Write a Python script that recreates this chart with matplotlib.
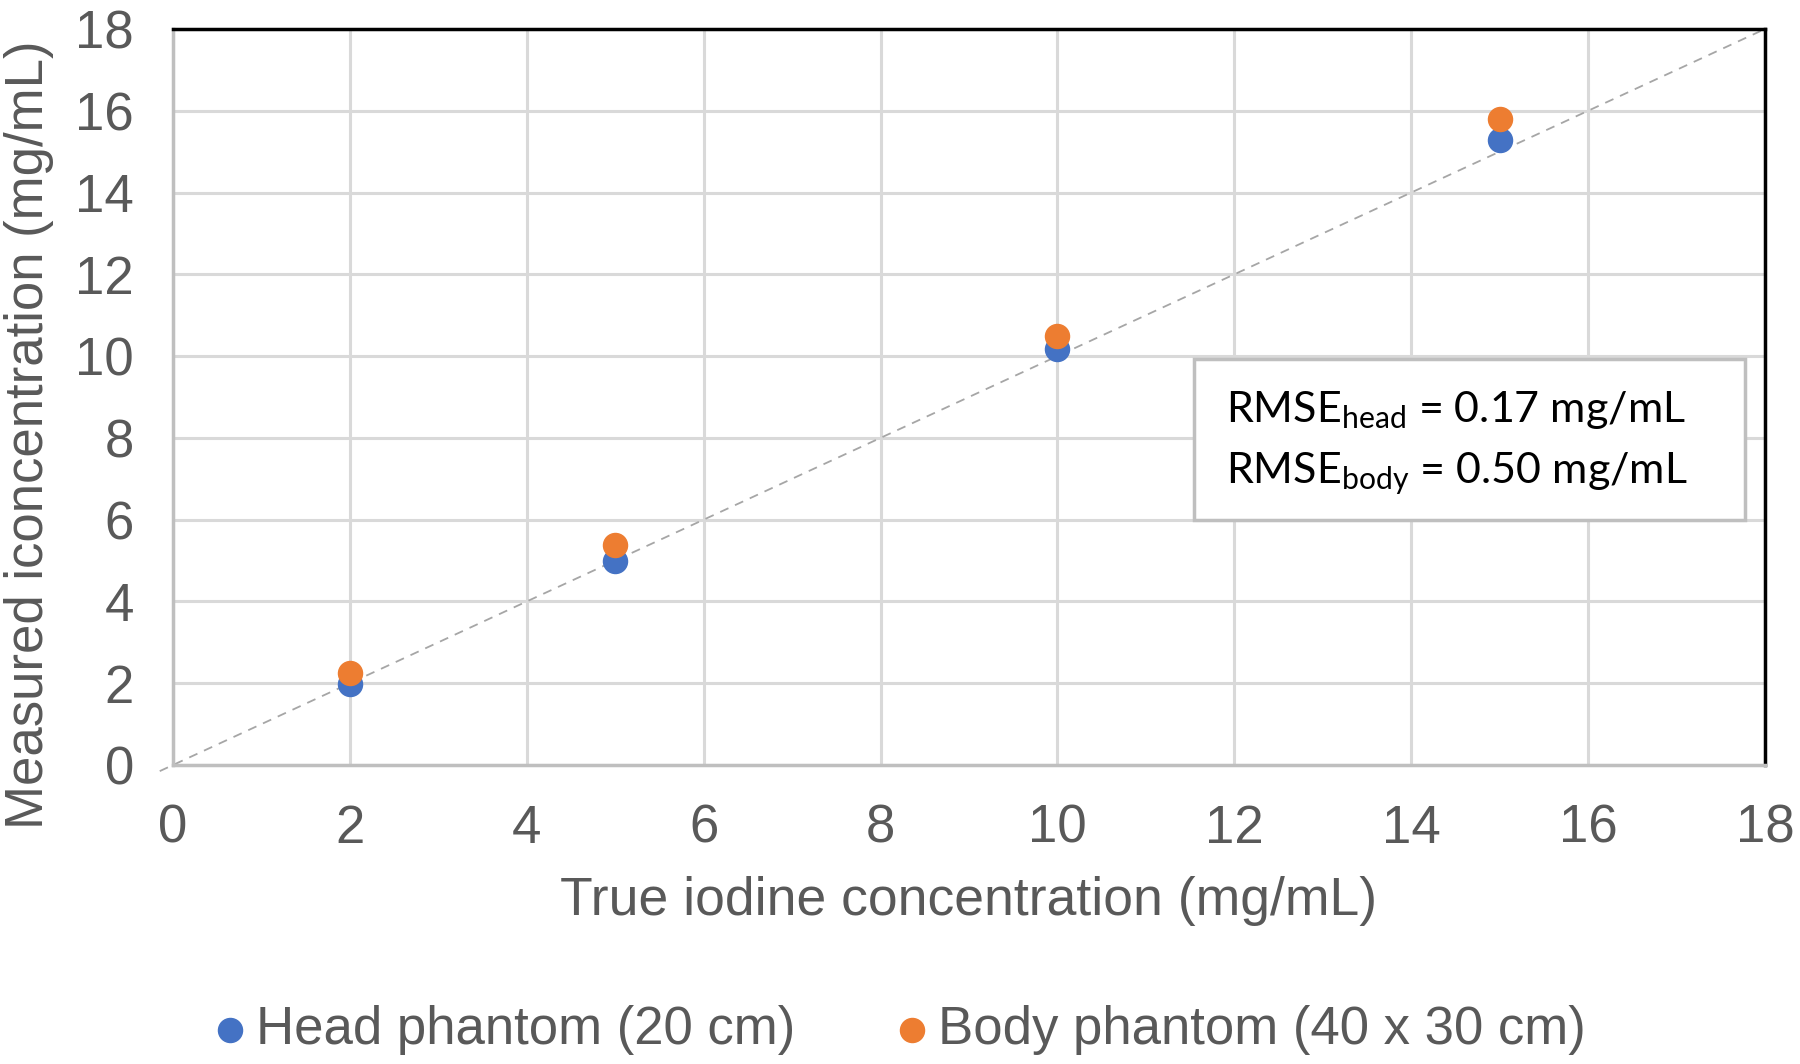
import matplotlib
matplotlib.use("Agg")
import matplotlib.pyplot as plt

plt.rcParams["font.family"] = ["Liberation Sans", "DejaVu Sans"]
plt.rcParams["mathtext.fontset"] = "custom"
plt.rcParams["mathtext.rm"] = "Lato"
plt.rcParams["mathtext.it"] = "Lato:italic"

# 数据
true_conc = [2, 5, 10, 15]
head_measured = [1.97, 5.0, 10.17, 15.28]
body_measured = [2.24, 5.38, 10.5, 15.8]
ticks = [0, 2, 4, 6, 8, 10, 12, 14, 16, 18]
identity_line = [-0.15, 18]
rmse_lines = [r"$\mathrm{RMSE}_{\mathrm{head}}$ = 0.17 mg/mL",
              r"$\mathrm{RMSE}_{\mathrm{body}}$ = 0.50 mg/mL"]

blue = "#4472C4"
orange = "#ED7D31"
text_gray = "#595959"
W, H = 1800, 1064

fig = plt.figure(figsize=(18, 10.64), dpi=100)
ax = fig.add_axes([173 / W, 1 - 765 / H, 1592 / W, 736 / H])

ax.plot(identity_line, identity_line, ls=(0, (5, 4)), color="#a6a6a6", lw=1.3, zorder=2, clip_on=False)
ax.scatter(true_conc, head_measured, s=300, color=blue, zorder=3, label="Head phantom (20 cm)")
ax.scatter(true_conc, body_measured, s=300, color=orange, zorder=3, label="Body phantom (40 x 30 cm)")

ax.set_xlim(0, 18)
ax.set_ylim(0, 18)
ax.set_xticks(ticks)
ax.set_yticks(ticks)
ax.grid(True, color="#d9d9d9", lw=2.2, zorder=0)
ax.set_axisbelow(True)
ax.tick_params(length=0, labelsize=38, labelcolor=text_gray, pad=28)

for side in ["left", "bottom"]:
    ax.spines[side].set_color("#bfbfbf")
    ax.spines[side].set_linewidth(2.5)
for side in ["top", "right"]:
    ax.spines[side].set_color("black")
    ax.spines[side].set_linewidth(2.5)

ax.set_xlabel("True iodine concentration (mg/mL)", fontsize=38.5, color=text_gray, va="center")
ax.xaxis.set_label_coords(0.5, -0.185)
ax.set_ylabel("Measured iconcentration (mg/mL)", fontsize=38, color=text_gray, va="center")
ax.yaxis.set_label_coords(-0.0905, 0.449)

# RMSE 文本框
box = plt.Rectangle((1194 / W, 1 - 520 / H), 551 / W, 161 / H,
                    transform=fig.transFigure, facecolor="white",
                    edgecolor="#bfbfbf", lw=2.5, zorder=5, clip_on=False)
ax.add_patch(box)
for i, line in enumerate(rmse_lines):
    ax.text(1226 / W, 1 - (422 + 61 * i) / H, line, transform=fig.transFigure,
            family="Lato", fontsize=31, color="black", va="baseline", ha="left", zorder=6)

fig.legend(loc="center", bbox_to_anchor=(0.5, 1 - 1030 / H), ncol=2, frameon=False,
           fontsize=38, labelcolor=text_gray, handlelength=0.6, handletextpad=0.2,
           columnspacing=1.9, markerscale=1.0)

plt.savefig("out.png", dpi=100)
